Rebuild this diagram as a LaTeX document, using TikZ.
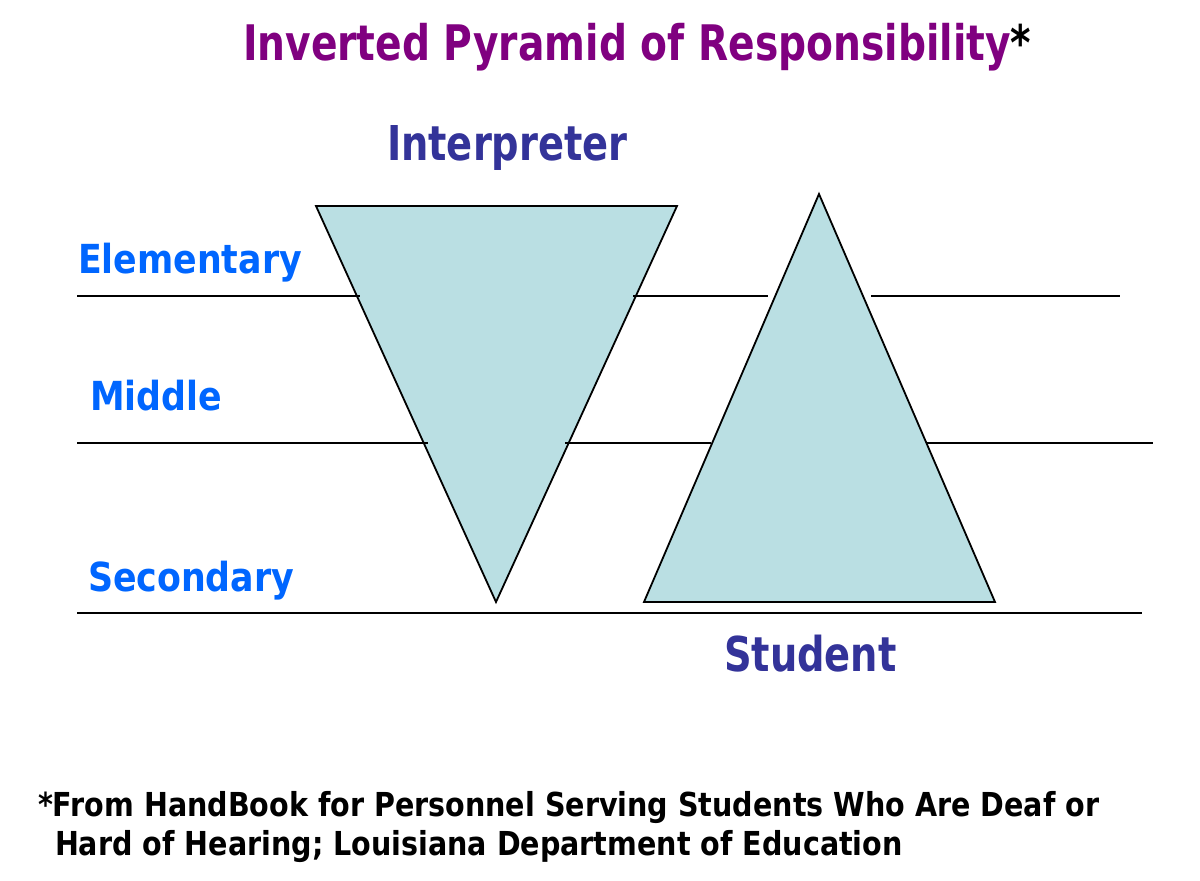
\documentclass[tikz,border=0pt]{standalone}
\usepackage{fontspec}
\setmainfont{DejaVu Sans}
\newfontfamily\headfont[FakeStretch=0.80]{DejaVu Sans Bold}
\newfontfamily\levelfont[FakeStretch=0.87]{DejaVu Sans Bold}
\newfontfamily\notefont[FakeStretch=0.866]{DejaVu Sans Bold}

\definecolor{titlepurple}{RGB}{128,0,128}
\definecolor{rolenavy}{RGB}{51,51,153}
\definecolor{levelblue}{RGB}{0,102,255}
\definecolor{pyrfill}{RGB}{186,223,227}

\begin{document}
\begin{tikzpicture}[x=1pt,y=-1pt,
    txt/.style={anchor=base west,inner sep=0pt,outer sep=0pt},
    heading/.style={txt,text=titlepurple,font=\headfont\fontsize{49}{49}\selectfont},
    role/.style={txt,text=rolenavy,font=\headfont\fontsize{48}{48}\selectfont},
    level/.style={txt,text=levelblue,font=\levelfont\fontsize{40}{40}\selectfont},
    note/.style={txt,text=black,font=\notefont\fontsize{33}{33}\selectfont},
    pyramid/.style={draw=black,fill=pyrfill,line width=1.8pt,line join=miter},
    rule/.style={draw=black,line width=2pt}]
    \useasboundingbox (0,0) rectangle (1200,881);

    % title
    \node[heading] (title) at (243,60) {Inverted Pyramid of Responsibility\textcolor{black}{*}};

    % the two pyramids
    \draw[pyramid] (316,206) coordinate (il) -- (677,206) coordinate (ir) -- (496,602) coordinate (ib) -- cycle;
    \draw[pyramid] (819,194) coordinate (st) -- (995,602) coordinate (sr) -- (644,602) coordinate (sl) -- cycle;

    % school levels
    \draw[rule] (77,296) -- (360,296) (633,296) -- (768,296) (871,296) -- (1120,296);
    \draw[rule] (77,443) -- (428,443) (565,443) -- (711,443) (927,443) -- (1153,443);
    \draw[rule] (77,613) -- (1142,613);

    \node[level] (elem) at (78,273) {Elementary};
    \node[level] (mid) at (90,410) {Middle};
    \node[level] (sec) at (88,591) {Secondary};

    \node[role] (interp) at (387,160) {Interpreter};
    \node[role] (stud) at (724,671) {Student};

    % source
    \node[note] (src1) at (38,816) {*From HandBook for Personnel Serving Students Who Are Deaf or};
    \node[note] (src2) at (55,855) {Hard of Hearing; Louisiana Department of Education};
\end{tikzpicture}
\end{document}
